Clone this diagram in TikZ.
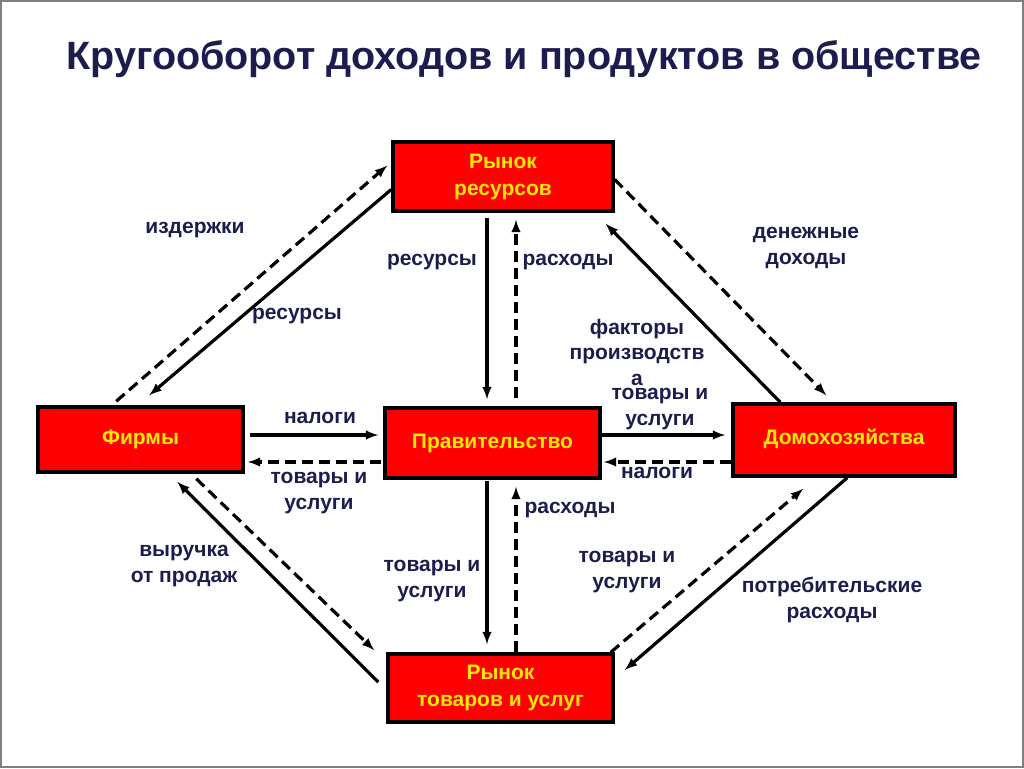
\documentclass[tikz,border=0pt]{standalone}
\usepackage{fontspec}
\setmainfont{Liberation Sans}
\usetikzlibrary{arrows}

\definecolor{navy}{RGB}{28,28,78}
\definecolor{boxred}{RGB}{255,0,0}
\definecolor{boxtext}{RGB}{255,232,0}
\tikzset{
  block/.style={draw=black, line width=3.5pt, fill=boxred, text=boxtext, inner sep=0pt,
    font=\fontsize{21}{27}\selectfont\bfseries, align=center},
  lbl/.style={text=navy, font=\fontsize{21}{26}\selectfont\bfseries, align=center},
  flow/.style={-latex, line width=3.2pt},
  dflow/.style={flow, dash pattern=on 11pt off 6pt},
}

\begin{document}
\begin{tikzpicture}[x=1pt, y=-1pt]
\useasboundingbox (0,0) rectangle (1024,768);
\draw[gray, line width=2pt] (1,1) rectangle (1023,767);

\node[text=navy, font=\fontsize{39.5}{42}\selectfont\bfseries, anchor=base] (title) at (524,70)
  {Кругооборот доходов и продуктов в обществе};

% boxes
\node[block, minimum width=220pt, minimum height=69pt] (res) at (503,176.5) {Рынок\\ресурсов};
\node[block, minimum width=205pt, minimum height=65pt] (firms) at (140.5,439.5) {Фирмы};
\node[block, minimum width=215pt, minimum height=70pt] (gov) at (492.5,443) {Правительство};
\node[block, minimum width=222pt, minimum height=72pt] (house) at (844,440) {\raisebox{6pt}{Домохозяйства}};
\node[block, minimum width=225pt, minimum height=68pt] (goods) at (500.5,688) {Рынок\\товаров и услуг};

\coordinate (c1) at (487,0);
\coordinate (c2) at (516,0);
\coordinate (r1) at (0,435);
\coordinate (r2) at (0,462);

% firms -- resource market
\draw[dflow] ([xshift=80pt,yshift=4pt]firms.north west) -- ([xshift=-4pt,yshift=11pt]res.west);
\draw[flow] ([yshift=-13pt]res.west) -- ([xshift=113pt,yshift=10pt]firms.north west);
% resource market -- government
\draw[flow, shorten <=5pt, shorten >=7pt] (res.south -| c1) -- (gov.north -| c1);
\draw[dflow, shorten <=8pt, shorten >=7pt] (gov.north -| c2) -- (res.south -| c2);
% resource market -- households
\draw[dflow] ([yshift=-3pt]res.east) -- ([xshift=95pt,yshift=7pt]house.north west);
\draw[flow] ([xshift=49pt]house.north west) -- ([xshift=-9pt,yshift=-11pt]res.south east);
% middle row
\draw[flow, shorten <=5pt, shorten >=5pt] (firms.east |- r1) -- (gov.west |- r1);
\draw[dflow, shorten <=2pt, shorten >=3pt] (gov.west |- r2) -- (firms.east |- r2);
\draw[flow, shorten >=6pt] (gov.east |- r1) -- (house.west |- r1);
\draw[dflow, shorten >=2pt] (house.west |- r2) -- (gov.east |- r2);
% government -- goods market
\draw[flow, shorten <=1pt, shorten >=8pt] (gov.south -| c1) -- (goods.north -| c1);
\draw[dflow, shorten >=7pt] (goods.north -| c2) -- (gov.south -| c2);
% firms -- goods market
\draw[flow] ([xshift=-8pt,yshift=6pt]goods.west) -- ([xshift=141pt,yshift=-8pt]firms.south west);
\draw[dflow] ([xshift=160pt,yshift=-5pt]firms.south west) -- ([xshift=-12pt,yshift=2pt]goods.north west);
% households -- goods market
\draw[flow] ([xshift=116pt]house.south west) -- ([xshift=10pt,yshift=18pt]goods.east);
\draw[dflow] ([xshift=-4pt]goods.north east) -- ([xshift=72pt,yshift=-11pt]house.south west);

% labels
\node[lbl] (costs) at (195,230) {издержки};
\node[lbl] (resF) at (297,316) {ресурсы};
\node[lbl] (resG) at (432,262) {ресурсы};
\node[lbl] (spendR) at (568,262) {расходы};
\node[lbl] (income) at (806,248) {денежные\\доходы};
\node[lbl, font=\fontsize{21}{25.5}\selectfont\bfseries] (factors) at (637,352) {факторы\\производств\\а};
\node[lbl] (goodsH) at (660,409) {товары и\\услуги};
\node[lbl] (taxF) at (320,418) {налоги};
\node[lbl] (goodsF) at (319,493) {товары и\\услуги};
\node[lbl] (taxH) at (657,473) {налоги};
\node[lbl] (spendG) at (570,510) {расходы};
\node[lbl] (revenue) at (184,566) {выручка\\от продаж};
\node[lbl] (goodsM) at (432,581) {товары и\\услуги};
\node[lbl] (goodsC) at (627,572) {товары и\\услуги};
\node[lbl] (consume) at (832,600) {потребительские\\расходы};
\end{tikzpicture}
\end{document}
